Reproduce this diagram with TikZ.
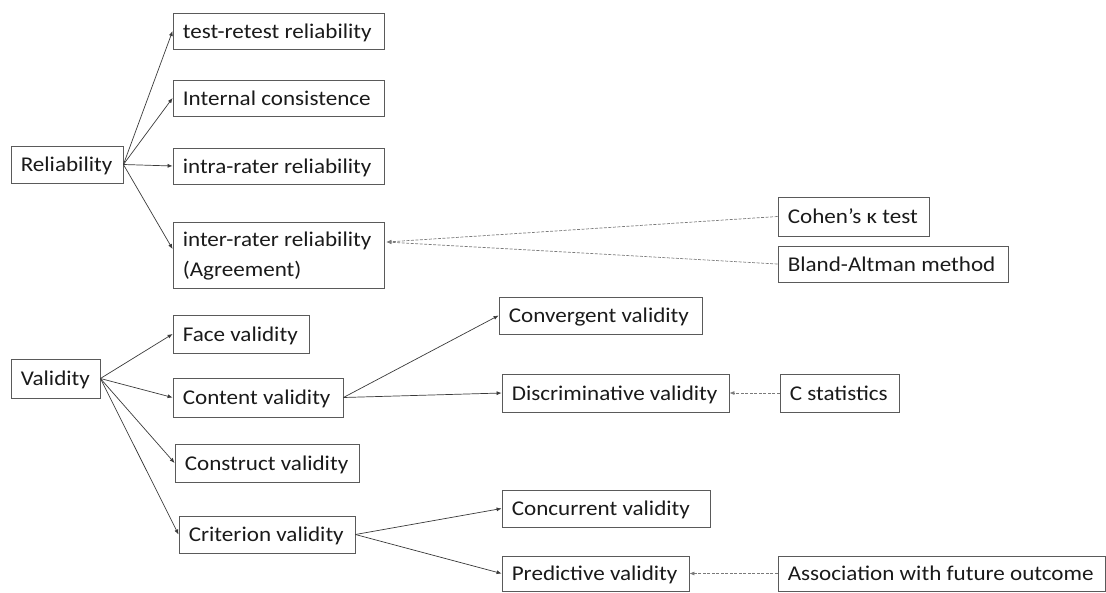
\documentclass[tikz,border=0pt]{standalone}
\usepackage{fontspec}
\setmainfont{Carlito}[FakeStretch=1.1]
\usetikzlibrary{arrows.meta,calc}
\definecolor{boxgray}{HTML}{5A5A5A}
\definecolor{linegray}{HTML}{3A3A3A}
\definecolor{dashgray}{HTML}{7A7A7A}
\definecolor{txt}{HTML}{1A1A1A}
\newcommand\bx[7][oneline]{%
  \pgfmathsetmacro\bw{#5-#3}\pgfmathsetmacro\bh{#6-#4}%
  \node[bx, minimum width=\bw pt, minimum height=\bh pt] (#2) at ({(#3+#5)/2},{(#4+#6)/2}) {};
  \node[lbl, #1] at ([xshift=10pt]#2.west) {#7};}
\begin{document}
\begin{tikzpicture}[x=1pt,y=-1pt,
  bx/.style={draw=boxgray, line width=0.8pt, inner sep=0pt},
  lbl/.style={anchor=west, inner sep=0pt, align=left, text=txt, font=\fontsize{21}{30}\selectfont},
  oneline/.style={text height=14pt, text depth=0pt},
  twoline/.style={yshift=-1pt},
  arr/.style={draw=linegray, line width=0.7pt, -{Latex[length=5pt,width=4pt]}},
  darr/.style={draw=dashgray, line width=0.7pt, dash pattern=on 3pt off 1.5pt, -{Latex[length=5pt,width=4pt]}}]
\useasboundingbox (0,0) rectangle (1106,592);
% reliability
\bx{rel}{11}{146}{123}{183}{Reliability}
\bx{tr}{173}{13}{384}{49}{test-retest reliability}
\bx{ic}{173}{80}{384}{116}{Internal consistence}
\bx{ia}{173}{148}{384}{184}{intra-rater reliability}
\bx[twoline]{ir}{173}{222}{384}{288}{inter-rater reliability\\(Agreement)}
\bx{ck}{778}{197}{929}{236}{Cohen’s κ test}
\bx{ba}{778}{246}{1008}{282}{Bland-Altman method}
% validity
\bx{val}{11}{359}{100}{398}{Validity}
\bx{fv}{173}{315}{309}{353}{Face validity}
\bx{cv}{173}{378}{343}{417}{Content validity}
\bx{sv}{175}{444}{359}{482}{Construct validity}
\bx{rv}{179}{516}{355}{553}{Criterion validity}
\bx{gv}{499}{297}{702}{334}{Convergent validity}
\bx{dv}{502}{374}{729}{412}{Discriminative validity}
\bx{cs}{780}{374}{899}{412}{C statistics}
\bx{ccv}{502}{490}{710}{527}{Concurrent validity}
\bx{pv}{502}{556}{689}{591}{Predictive validity}
\bx{af}{778}{556}{1105}{591}{Association with future outcome}
% connectors
\foreach \t in {tr,ic,ia} \draw[arr] (rel.east) -- (\t.west);
\draw[arr] (rel.east) -- ([yshift=6pt]ir.west);
\foreach \t in {fv,cv,sv,rv} \draw[arr] (val.east) -- (\t.west);
\draw[arr] (cv.east) -- (gv.west);
\draw[arr] (cv.east) -- (dv.west);
\draw[arr] (rv.east) -- (ccv.west);
\draw[arr] (rv.east) -- (pv.west);
\draw[darr] (ck.west) -- ([xshift=2pt,yshift=13pt]ir.east);
\draw[darr] (ba.west) -- ([xshift=2pt,yshift=13pt]ir.east);
\draw[darr] (cs.west) -- (dv.east);
\draw[darr] (af.west) -- (pv.east);
\end{tikzpicture}
\end{document}
